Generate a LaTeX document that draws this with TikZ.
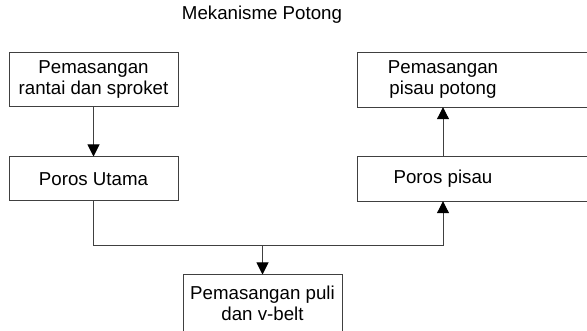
\documentclass[tikz,border=0pt]{standalone}
\usepackage{fontspec}
\setmainfont{Liberation Sans}
\usetikzlibrary{arrows.meta}
\begin{document}
\begin{tikzpicture}[x=1pt,y=-1pt,
  box/.style={draw=black!75,line width=1pt,minimum width=169pt,align=center,inner sep=0pt,font=\fontsize{18.7}{21}\selectfont},
  plain/.style={minimum width=169pt,align=center,inner sep=0pt,font=\fontsize{18.7}{21}\selectfont},
  conn/.style={draw=black!75,line width=1pt},
  arr/.style={conn,-{Triangle[length=12pt,width=12pt,fill=black,color=black]}}]
\useasboundingbox (0,0) rectangle (587,331);
\clip (0,0) rectangle (587,331);
\node[font=\fontsize{18.7}{21}\selectfont] (title) at (262,15) {Mekanisme Potong};
\node[box,minimum height=54pt] (a) at (93.5,80) {Pemasangan\\rantai dan sproket};
\node[box,minimum height=44pt] (b) at (93.5,179) {Poros Utama};
\node[plain,minimum width=170pt,minimum height=54pt] (c) at (443,80) {Pemasangan\\pisau potong};
\draw[conn] (c.north west) rectangle ([xshift=200pt]c.south east);
\node[plain,minimum width=170pt,minimum height=44pt] (d) at (443,179) {Poros pisau};
\draw[conn] (d.north west) rectangle ([xshift=200pt]d.south east);
\node[box,minimum width=159pt,minimum height=57pt] (e) at (262.5,303.5) {Pemasangan puli\\dan v-belt};
\coordinate (j) at (262.5,246);
\draw[arr] (a) -- (b);
\draw[arr] (d) -- (c);
\draw[conn] (b.south) |- (j);
\draw[arr] (j) -| (d.south);
\draw[arr] (j) -- (e);
\end{tikzpicture}
\end{document}
